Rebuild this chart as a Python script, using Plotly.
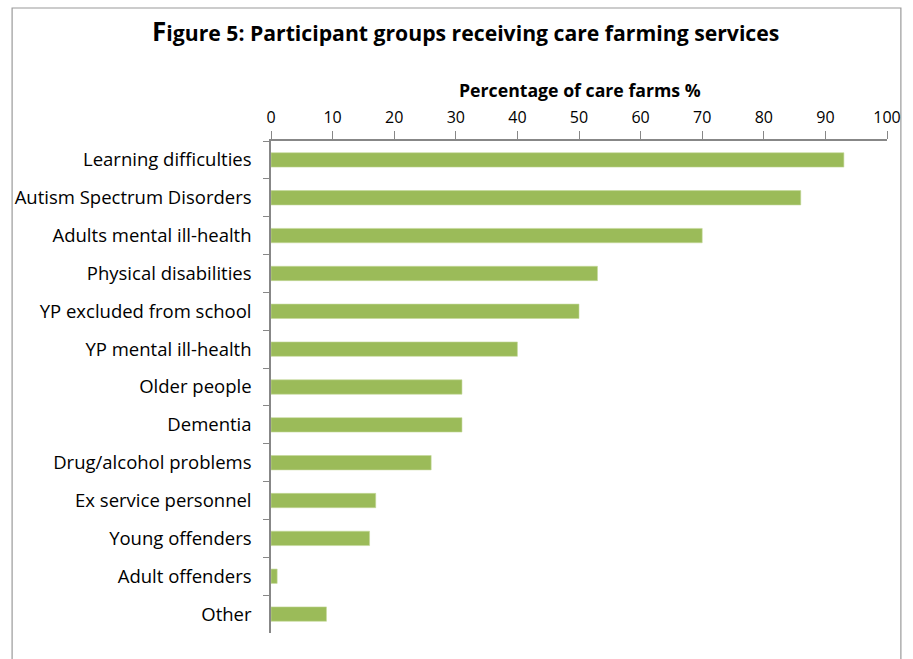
import plotly.graph_objects as go

categories = ["Learning difficulties", "Autism Spectrum Disorders", "Adults mental ill-health",
              "Physical disabilities", "YP excluded from school", "YP mental ill-health",
              "Older people", "Dementia", "Drug/alcohol problems", "Ex service personnel",
              "Young offenders", "Adult offenders", "Other"]
percentages = [93, 86, 70, 53, 50, 40, 31, 31, 26, 17, 16, 1, 9]
x_ticks = list(range(0, 101, 10))

FONT = "Open Sans"
W, H = 913, 659
L, R, T, B = 271, 892, 141, 633

fig = go.Figure(go.Bar(
    y=categories, x=percentages, orientation="h",
    marker=dict(color="#9BBB59", line=dict(color="#c5d89a", width=0.6)),
))

pw, ph = R - L, B - T
def px(x): return (x - L) / pw
def py(y): return (B - y) / ph

fig.update_layout(
    width=W, height=H,
    margin=dict(l=L, r=W - R, t=T, b=H - B),
    paper_bgcolor="white", plot_bgcolor="white",
    bargap=0.62, showlegend=False,
    font=dict(family=FONT, size=16, color="#000000"),
    xaxis=dict(side="top", range=[0, 100], tickvals=x_ticks, showgrid=False, zeroline=False,
               showline=True, linecolor="#878787", linewidth=1.5, ticks="outside", ticklen=8,
               tickcolor="#878787", tickfont=dict(size=16), ticklabelstandoff=2),
    yaxis=dict(categoryorder="array", categoryarray=categories, autorange="reversed",
               showgrid=False, zeroline=False, showline=True, linecolor="#878787", linewidth=1.5,
               ticks="outside", ticklen=6, tickcolor="#878787", tickson="boundaries",
               ticklabelstandoff=14, tickfont=dict(size=18.5)),
    annotations=[
        dict(text="<b><span style='font-size:26px'>F</span>igure 5: Participant groups receiving care farming services</b>",
             x=px(467), y=py(31), xref="paper", yref="paper", showarrow=False,
             font=dict(size=21.2, family=FONT), xanchor="center", yanchor="middle"),
        dict(text="<b>Percentage of care farms %</b>", x=px(583), y=py(90), xref="paper", yref="paper",
             showarrow=False, font=dict(size=17.7, family=FONT), xanchor="center", yanchor="middle"),
    ],
    shapes=[dict(type="rect", xref="paper", yref="paper", x0=px(10), x1=px(906), y0=py(668), y1=py(8),
                 line=dict(color="#9a9a9a", width=1.2), fillcolor="rgba(0,0,0,0)", layer="below")],
)

fig.write_html("out.html", config={"displayModeBar": False},
               post_script="document.body.style.margin='0';")
